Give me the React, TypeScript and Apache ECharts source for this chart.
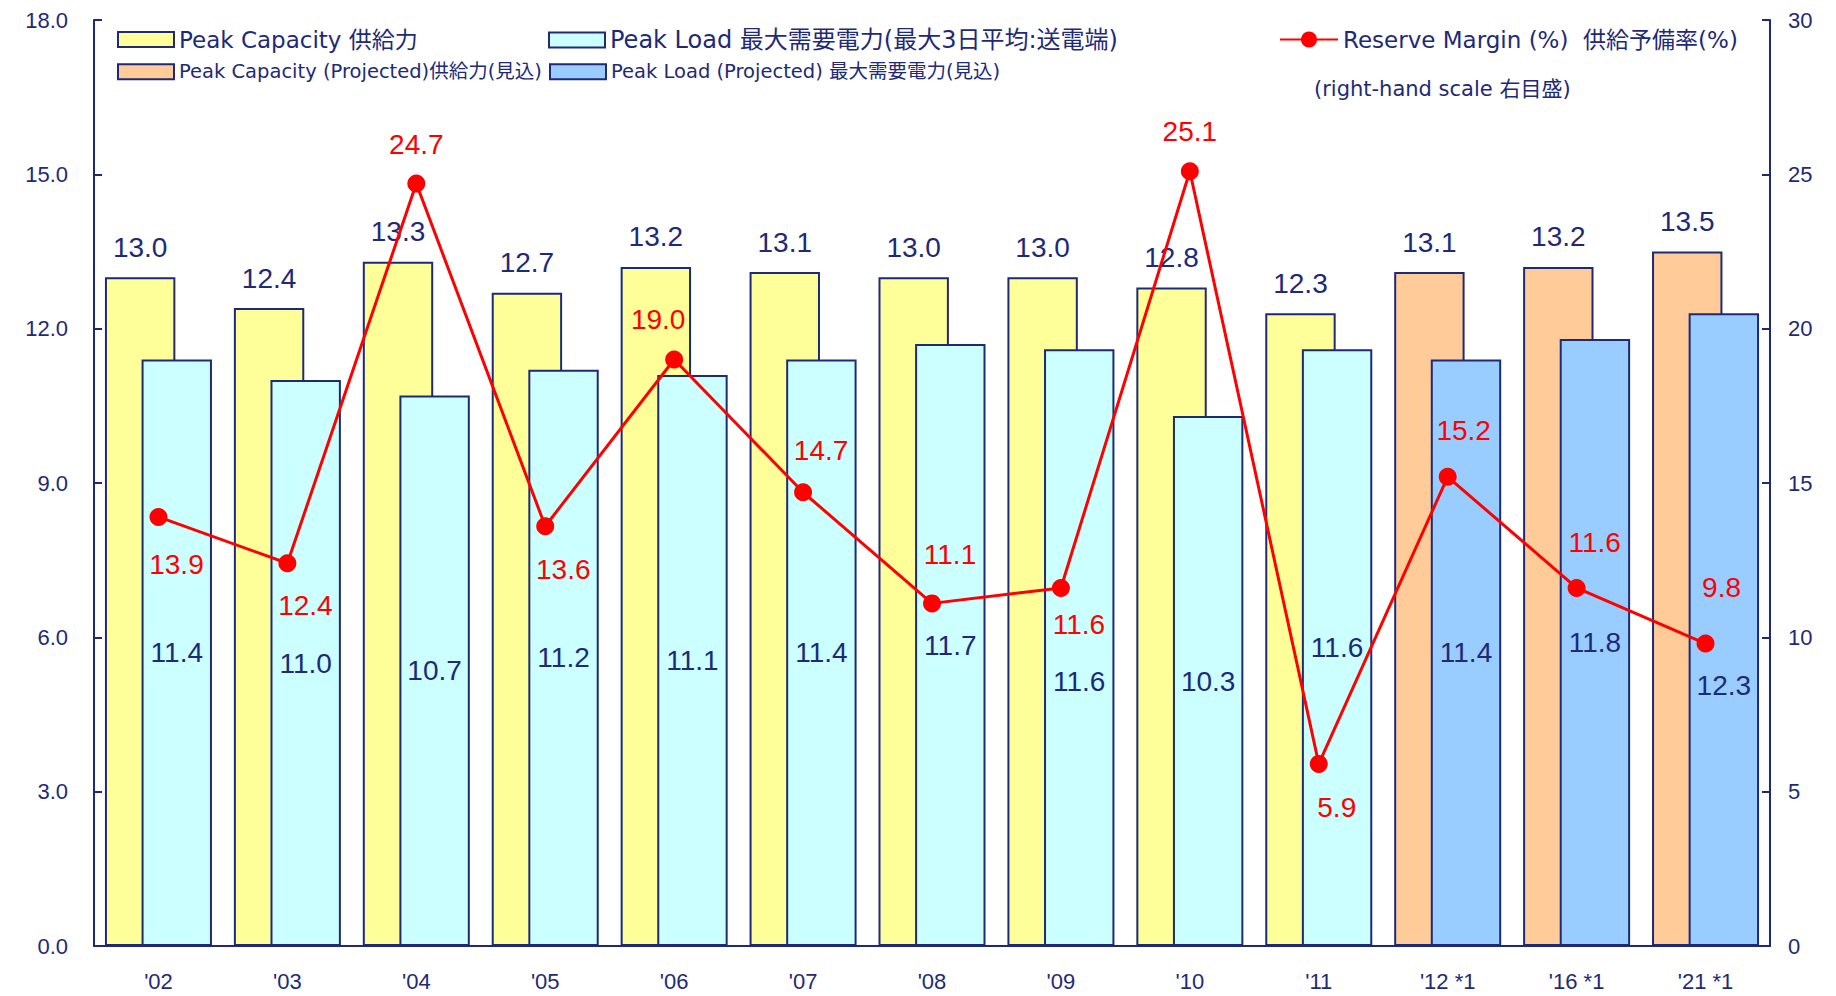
import React, { useEffect, useRef } from "react";
import * as echarts from "echarts";

const categories = ["'02", "'03", "'04", "'05", "'06", "'07", "'08", "'09", "'10", "'11", "'12 *1", "'16 *1", "'21 *1"];
const peakCapacity: (number | string)[] = [13.0, 12.4, 13.3, 12.7, 13.2, 13.1, 13.0, 13.0, 12.8, 12.3, "-", "-", "-"];
const peakCapacityProjected: (number | string)[] = ["-", "-", "-", "-", "-", "-", "-", "-", "-", "-", 13.1, 13.2, 13.5];
const peakLoad: (number | string)[] = [11.4, 11.0, 10.7, 11.2, 11.1, 11.4, 11.7, 11.6, 10.3, 11.6, "-", "-", "-"];
const peakLoadProjected: (number | string)[] = ["-", "-", "-", "-", "-", "-", "-", "-", "-", "-", 11.4, 11.8, 12.3];
const reserveMargin = [13.9, 12.4, 24.7, 13.6, 19.0, 14.7, 11.1, 11.6, 25.1, 5.9, 15.2, 11.6, 9.8];
// label offsets (dx, dy) from each reserve-margin point
const marginLabelOffset: [number, number][] = [
  [18, 48], [18, 42], [0, -39], [18, 43], [-16, -40], [18, -42], [18, -49],
  [18, 37], [0, -40], [18, 44], [16, -46], [18, -45], [16, -56],
];
// vertical nudges of the peak-load labels away from the centre of their bar
const loadLabelShift = [0, 0, 0, 0, 0, 0, 0, 34, 0, 0, 0, 0, 56];

const NAMES = {
  cap: "Peak Capacity 供給力",
  capP: "Peak Capacity (Projected)供給力(見込)",
  load: "Peak Load 最大需要電力(最大3日平均:送電端)",
  loadP: "Peak Load (Projected) 最大需要電力(見込)",
  margin: "Reserve Margin (%)  供給予備率(%)",
};

const NAVY = "#1e2a78";
const FONT = "'Liberation Sans', 'Noto Sans CJK JP', sans-serif";
const LFONT = "'DejaVu Sans', 'Noto Sans CJK JP', sans-serif";

export default function App() {
  const ref = useRef<HTMLDivElement>(null);
  useEffect(() => {
    if (!ref.current) return;
    const chart = echarts.init(ref.current, undefined, { renderer: "svg" });
    const barCommon = {
      type: "bar",
      barGap: "-48%",
      barCategoryGap: "17%",
      itemStyle: { borderColor: NAVY, borderWidth: 2 },
    };
    const fmt = (p: any) => Number(p.value).toFixed(1);
    const capLabel = { show: true, position: "top", distance: 16, color: NAVY, fontSize: 28, fontFamily: FONT, formatter: fmt };
    const loadLabel = { show: true, position: "inside", color: NAVY, fontSize: 28, fontFamily: FONT, formatter: fmt };
    const loadData = (arr: (number | string)[]) =>
      arr.map((v, i) => ({ value: v, label: { offset: [0, loadLabelShift[i]] } }));
    const legendBase = {
      padding: 0,
      itemWidth: 56,
      itemHeight: 15,
      icon: "rect",
      textStyle: { color: NAVY, fontFamily: LFONT, fontSize: 23 },
    };
    const smallText = { ...legendBase.textStyle, fontSize: 19.5 };
    chart.setOption({
      animation: false,
      textStyle: { fontFamily: FONT },
      grid: { left: 94, right: 66, top: 20, bottom: 50, containLabel: false },
      legend: [
        { ...legendBase, left: 117, top: 28, data: [NAMES.cap] },
        { ...legendBase, left: 548, top: 28, textStyle: { ...legendBase.textStyle, fontSize: 24 }, data: [NAMES.load] },
        { ...legendBase, left: 1279, top: 28, itemWidth: 58, itemHeight: 20, icon: undefined, data: [NAMES.margin] },
        { ...legendBase, left: 117, top: 62, textStyle: smallText, data: [NAMES.capP] },
        { ...legendBase, left: 549, top: 62, textStyle: smallText, data: [NAMES.loadP] },
      ],
      graphic: [
        {
          type: "text",
          left: 1314,
          top: 78,
          style: { text: "(right-hand scale 右目盛)", fill: NAVY, fontSize: 21, fontFamily: LFONT },
        },
      ],
      xAxis: {
        type: "category",
        data: categories,
        axisLine: { lineStyle: { color: NAVY, width: 2 } },
        axisTick: { inside: true, length: 8, lineStyle: { color: NAVY, width: 2 } },
        axisLabel: { color: NAVY, fontSize: 22, margin: 24, fontFamily: FONT },
      },
      yAxis: [
        {
          type: "value",
          min: 0,
          max: 18,
          interval: 3,
          splitLine: { show: false },
          axisLine: { show: true, lineStyle: { color: NAVY, width: 2 } },
          axisTick: { show: true, inside: true, length: 8, lineStyle: { color: NAVY, width: 2 } },
          axisLabel: { color: NAVY, fontSize: 22, margin: 26, formatter: (v: number) => v.toFixed(1), fontFamily: FONT },
        },
        {
          type: "value",
          min: 0,
          max: 30,
          interval: 5,
          splitLine: { show: false },
          axisLine: { show: true, lineStyle: { color: NAVY, width: 2 } },
          axisTick: { show: true, inside: true, length: 8, lineStyle: { color: NAVY, width: 2 } },
          axisLabel: { color: NAVY, fontSize: 22, margin: 18, fontFamily: FONT },
        },
      ],
      series: [
        { ...barCommon, name: NAMES.cap, stack: "cap", data: peakCapacity, itemStyle: { ...barCommon.itemStyle, color: "#ffff99" }, label: capLabel },
        { ...barCommon, name: NAMES.capP, stack: "cap", data: peakCapacityProjected, itemStyle: { ...barCommon.itemStyle, color: "#ffcc99" }, label: capLabel },
        { ...barCommon, name: NAMES.load, stack: "load", data: loadData(peakLoad), itemStyle: { ...barCommon.itemStyle, color: "#ccffff" }, label: loadLabel },
        { ...barCommon, name: NAMES.loadP, stack: "load", data: loadData(peakLoadProjected), itemStyle: { ...barCommon.itemStyle, color: "#99ccff" }, label: loadLabel },
        {
          type: "line",
          name: NAMES.margin,
          yAxisIndex: 1,
          z: 5,
          data: reserveMargin.map((v, i) => ({ value: v, label: { offset: marginLabelOffset[i] } })),
          symbol: "circle",
          symbolSize: 18,
          itemStyle: { color: "#ff0000" },
          lineStyle: { color: "#ff0000", width: 3 },
          label: {
            show: true,
            position: "inside",
            color: "#ff0000",
            fontSize: 28,
            fontFamily: FONT,
            formatter: fmt,
          },
        },
      ],
    });
    return () => chart.dispose();
  }, []);
  return <div ref={ref} style={{ position: "fixed", left: 0, top: 0, width: 1836, height: 996, background: "#fff" }} />;
}
